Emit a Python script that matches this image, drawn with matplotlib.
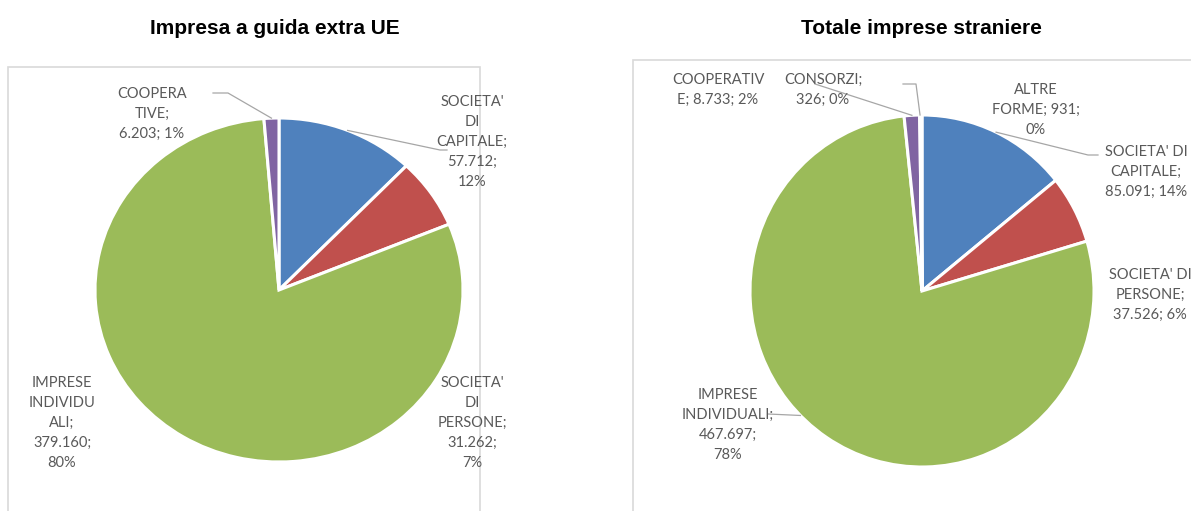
import matplotlib
matplotlib.use("Agg")
import matplotlib.pyplot as plt
from matplotlib.lines import Line2D
from matplotlib.patches import Rectangle
import numpy as np

W, H = 1191, 511

left_title = "Impresa a guida extra UE"
right_title = "Totale imprese straniere"

left_categories = ["SOCIETA' DI CAPITALE", "SOCIETA' DI PERSONE", "IMPRESE INDIVIDUALI", "COOPERATIVE"]
left_values = [57712, 31262, 379160, 6203]
left_labels = ["SOCIETA'\nDI\nCAPITALE;\n57.712;\n12%",
               "SOCIETA'\nDI\nPERSONE;\n31.262;\n7%",
               "IMPRESE\nINDIVIDU\nALI;\n379.160;\n80%",
               "COOPERA\nTIVE;\n6.203; 1%"]

right_categories = ["SOCIETA' DI CAPITALE", "SOCIETA' DI PERSONE", "IMPRESE INDIVIDUALI",
                    "COOPERATIVE", "CONSORZI", "ALTRE FORME"]
right_values = [85091, 37526, 467697, 8733, 326, 931]
right_labels = ["SOCIETA' DI\nCAPITALE;\n85.091; 14%",
                "SOCIETA' DI\nPERSONE;\n37.526; 6%",
                "IMPRESE\nINDIVIDUALI;\n467.697;\n78%",
                "COOPERATIV\nE; 8.733; 2%",
                "CONSORZI;\n326; 0%",
                "ALTRE\nFORME; 931;\n0%"]

colors = ["#4F81BD", "#C0504D", "#9BBB59", "#8064A2", "#4BACC6", "#F79646"]

TXT = "#595959"
LINE = "#A6A6A6"
LBL_FONT = ["Lato", "DejaVu Sans"]
TITLE_FONT = ["Liberation Sans", "DejaVu Sans"]

fig = plt.figure(figsize=(W / 100, H / 100), dpi=100)
fig.patch.set_facecolor("white")


def fx(x):
    return x / W


def fy(y):
    return 1 - y / H


# frames
fig.patches.append(Rectangle((fx(8), fy(530)), fx(480 - 8), (530 - 67) / H,
                             transform=fig.transFigure, fill=False,
                             edgecolor="#D9D9D9", linewidth=1.2, zorder=0))
fig.patches.append(Rectangle((fx(633), fy(530)), fx(1220 - 633), (530 - 60) / H,
                             transform=fig.transFigure, fill=False,
                             edgecolor="#D9D9D9", linewidth=1.2, zorder=0))

fig.text(fx(275), fy(29), left_title, ha="center", va="center", fontsize=15,
         fontweight="bold", family=TITLE_FONT, color="black")
fig.text(fx(921), fy(29), right_title, ha="center", va="center", fontsize=15,
         fontweight="bold", family=TITLE_FONT, color="black")


def pie_axes(cx, cy, rx, ry, values):
    ax = fig.add_axes([fx(cx - rx), (H - cy - ry) / H, 2 * rx / W, 2 * ry / H])
    wedges, _ = ax.pie(values, colors=colors[:len(values)], startangle=90,
                       counterclock=False, radius=1,
                       wedgeprops=dict(edgecolor="white", linewidth=2.2))
    ax.set_aspect("auto")
    ax.set_xlim(-1, 1)
    ax.set_ylim(-1, 1)
    ax.axis("off")
    return ax, wedges


def arc_point(ax, wedge, frac=0.5, r=1.0):
    ang = np.deg2rad(wedge.theta1 + frac * (wedge.theta2 - wedge.theta1))
    dx, dy = ax.transData.transform((r * np.cos(ang), r * np.sin(ang)))
    return dx, H - dy


def leader(points):
    xs = [fx(p[0]) for p in points]
    ys = [fy(p[1]) for p in points]
    fig.add_artist(Line2D(xs, ys, transform=fig.transFigure, color=LINE,
                          linewidth=0.9, zorder=5))


def label(x, y, s):
    fig.text(fx(x), fy(y), s, ha="center", va="center", fontsize=10.5,
             family=LBL_FONT, color=TXT, linespacing=1.55, zorder=6)


# left pie
axL, wL = pie_axes(279, 290, 184, 172, left_values)
lpos = [(472, 142), (472, 423), (62, 423), (152, 114)]
for (x, y), s in zip(lpos, left_labels):
    label(x, y, s)
leader([(447, 150), (440, 150), arc_point(axL, wL[0], 0.5)])
leader([(213, 93), (228, 93), arc_point(axL, wL[3], 0.5)])

# right pie
axR, wR = pie_axes(922, 291, 172, 176, right_values)
rpos = [(1146, 172), (1150, 295), (728, 425), (718, 90), (823, 90), (1036, 110)]
for (x, y), s in zip(rpos, right_labels):
    label(x, y, s)
leader([(1098, 155), (1088, 155), arc_point(axR, wR[0], 0.5)])
leader([(815, 84), arc_point(axR, wR[3], 0.5)])
leader([(903, 84), (916, 84), arc_point(axR, wR[4], 0.5)])
leader([(768, 414), arc_point(axR, wR[2], 0.46)])

fig.savefig("out.png", dpi=100, facecolor="white")
